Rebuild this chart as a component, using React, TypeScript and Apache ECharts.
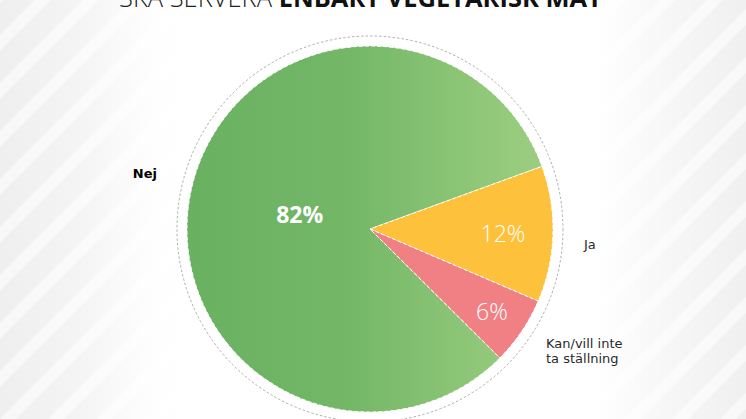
import { useEffect, useRef } from 'react'
import * as echarts from 'echarts'

// data
const CATEGORIES = ['Nej', 'Ja', 'Kan/vill inte\nta ställning']
const SHARES = [82, 12, 6]
const TITLE_LIGHT = 'SKA SERVERA '
const TITLE_BOLD = 'ENBART VEGETARISK MAT'

// layout
const W = 746
const H = 419
const CX = 370
const CY = 229
const R = 183
const RING_R = 193
const FONT = '"Open Sans", "DejaVu Sans", sans-serif'
const LABEL_FONT = '"DejaVu Sans", sans-serif'
// radius ranges of the invisible pies that carry the percentage labels
const PCT_RADII = [[0, 138], [80, 180], [108, 180]]
// where the category names sit
const NAME_POS = [
  { x: 157, y: 173, align: 'right' },
  { x: 584, y: 244, align: 'left' },
  { x: 546, y: 351, align: 'left' }
]

const sliceColors = [
  new echarts.graphic.LinearGradient(0, 0, 1, 0, [
    { offset: 0, color: '#69b161' },
    { offset: 0.45, color: '#73b767' },
    { offset: 0.85, color: '#92c87a' },
    { offset: 1, color: '#9ccd80' }
  ]),
  '#fdc13b',
  '#f08084'
]

const App: React.FC = () => {
  const chartRef = useRef<HTMLDivElement | null>(null)

  useEffect(() => {
    if (chartRef.current === null) return
    const chart = echarts.init(chartRef.current, undefined, { renderer: 'svg' })

    const total = SHARES.reduce((a, b) => a + b, 0)
    // the "Ja" slice starts 20 degrees above 3 o'clock
    const startAngle = 20 + (SHARES[0] / total) * 360

    // background stripes
    const stripes: any[] = []
    for (let k = -12; k < 20; k++) {
      const x0 = k * 48
      stripes.push({
        type: 'polygon',
        silent: true,
        shape: { points: [[x0, H], [x0 + H, 0], [x0 + H + 16, 0], [x0 + 16, H]] },
        style: { fill: '#f8f8f8' }
      })
    }

    const pctSeries = PCT_RADII.map((rad, idx) => ({
      type: 'pie',
      center: [CX, CY],
      radius: rad,
      startAngle,
      silent: true,
      z: 3,
      emphasis: { disabled: true },
      itemStyle: { color: 'transparent', borderWidth: 0 },
      labelLine: { show: false },
      data: CATEGORIES.map((name, i) => ({
        name,
        value: SHARES[i],
        label: {
          show: i === idx,
          position: 'inside',
          formatter: '{c}%',
          color: '#fff',
          fontFamily: FONT,
          fontSize: 23,
          fontWeight: i === 0 ? 'bold' : 300
        }
      }))
    }))

    const option = {
      animation: false,
      backgroundColor: '#fff',
      title: {
        text: `{l|${TITLE_LIGHT}}{b|${TITLE_BOLD}}`,
        left: 114,
        top: -21,
        textStyle: {
          rich: {
            l: { fontFamily: FONT, fontSize: 25.5, fontWeight: 300, color: '#222' },
            b: { fontFamily: FONT, fontSize: 25.5, fontWeight: 'bold', color: '#111' }
          }
        }
      },
      graphic: {
        elements: [
          { type: 'rect', silent: true, shape: { x: 0, y: 0, width: W, height: H }, style: { fill: '#eeefee' } },
          ...stripes,
          {
            type: 'rect',
            silent: true,
            shape: { x: 0, y: 0, width: W, height: H },
            style: {
              fill: new echarts.graphic.LinearGradient(0, 0, 1, 0, [
                { offset: 0, color: 'rgba(255,255,255,0)' },
                { offset: 0.1, color: 'rgba(255,255,255,0.3)' },
                { offset: 0.2, color: 'rgba(255,255,255,0.9)' },
                { offset: 0.25, color: 'rgba(255,255,255,1)' },
                { offset: 0.8, color: 'rgba(255,255,255,1)' },
                { offset: 0.87, color: 'rgba(255,255,255,0.6)' },
                { offset: 1, color: 'rgba(255,255,255,0.05)' }
              ])
            }
          },
          {
            type: 'circle',
            silent: true,
            shape: { cx: CX, cy: CY, r: RING_R },
            style: { fill: 'none', stroke: '#9a9a9a', lineWidth: 0.8, lineDash: [2.5, 2] }
          }
        ]
      },
      series: [
        {
          type: 'pie',
          center: [CX, CY],
          radius: R,
          startAngle,
          z: 2,
          emphasis: { disabled: true },
          itemStyle: { borderColor: '#fff', borderWidth: 1, borderType: 'dashed' },
          label: {
            show: true,
            position: 'outside',
            formatter: '{b}',
            fontFamily: LABEL_FONT,
            fontSize: 13,
            lineHeight: 15,
            color: '#2a2a2a'
          },
          labelLine: { show: false },
          labelLayout: (p: any) => ({ ...NAME_POS[p.dataIndex], verticalAlign: 'middle' }),
          data: CATEGORIES.map((name, i) => ({
            name,
            value: SHARES[i],
            itemStyle: { color: sliceColors[i] },
            label: i === 0 ? { fontWeight: 'bold', color: '#000' } : {}
          }))
        },
        ...pctSeries
      ]
    }

    chart.setOption(option as any)
    return () => {
      chart.dispose()
    }
  }, [])

  return (
    <div
      ref={chartRef}
      style={{ position: 'fixed', left: 0, top: 0, width: W, height: H }}
    ></div>
  )
}

export default App
